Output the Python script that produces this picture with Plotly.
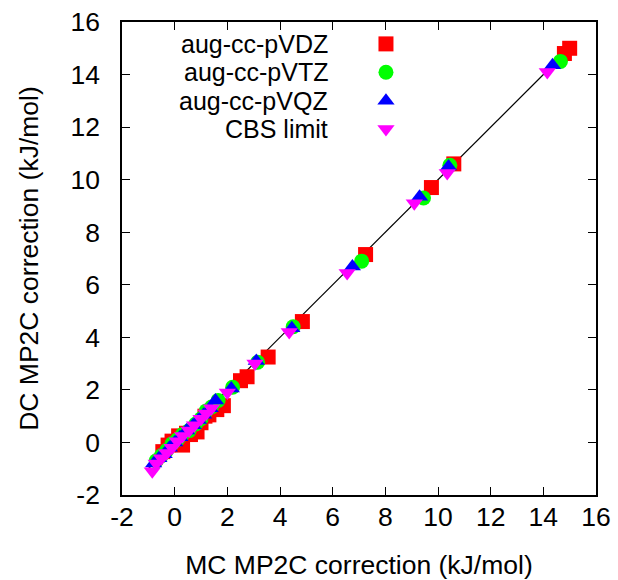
import plotly.graph_objects as go

# ---- data ----
dz_mc = [-0.45, -0.25, -0.10, 0.15, 0.30, 0.45, 0.60, 0.85, 1.00, 1.15, 1.30, 1.60, 1.85, 2.50, 2.75, 3.55, 4.85, 7.25, 9.75, 10.60, 14.80, 15.00]
dz_dc = [-0.35, -0.10, 0.05, 0.25, -0.10, 0.35, 0.30, 0.40, 0.75, 1.00, 1.05, 1.25, 1.40, 2.35, 2.50, 3.25, 4.60, 7.15, 9.70, 10.60, 14.80, 15.00]

tz_mc = [-0.70, -0.50, -0.30, -0.10, 0.10, 0.30, 0.55, 0.80, 1.00, 1.20, 1.40, 1.65, 2.20, 3.15, 4.50, 7.10, 9.45, 10.45, 14.65]
tz_dc = [-0.70, -0.50, -0.30, -0.05, 0.10, 0.30, 0.45, 0.70, 0.90, 1.20, 1.35, 1.60, 2.10, 3.05, 4.40, 6.90, 9.30, 10.55, 14.50]

qz_mc = [-0.80, -0.60, -0.40, -0.20, 0.00, 0.20, 0.45, 0.70, 0.90, 1.10, 1.35, 1.55, 2.15, 3.10, 4.45, 6.75, 9.30, 10.40, 14.35]
qz_dc = [-0.80, -0.60, -0.45, -0.20, 0.00, 0.20, 0.45, 0.65, 0.85, 1.05, 1.30, 1.60, 2.05, 3.10, 4.35, 6.70, 9.35, 10.50, 14.35]

cbs_mc = [-0.85, -0.70, -0.50, -0.30, -0.10, 0.10, 0.30, 0.55, 0.75, 1.00, 1.20, 1.40, 2.00, 3.05, 4.35, 6.55, 9.10, 10.35, 14.15]
cbs_dc = [-1.10, -0.80, -0.60, -0.40, -0.20, 0.05, 0.25, 0.45, 0.65, 0.90, 1.10, 1.30, 1.90, 3.00, 4.20, 6.45, 9.10, 10.25, 14.10]

diag = [-1.0, 15.0]

labels = ["aug-cc-pVDZ", "aug-cc-pVTZ", "aug-cc-pVQZ", "CBS limit"]
colors = ["#ff0000", "#00ff00", "#0000ff", "#ff00ff"]
symbols = ["square", "circle", "triangle-up", "triangle-down"]
sizes = [15, 15, 15, 15]
ticks = [-2, 0, 2, 4, 6, 8, 10, 12, 14, 16]

series = [(dz_mc, dz_dc), (tz_mc, tz_dc), (qz_mc, qz_dc), (cbs_mc, cbs_dc)]

FONT = "Liberation Sans, Arial, Helvetica, sans-serif"
FS = 26.5
FS_KEY = 25

# legend row centres (paper fraction of plot height)
row_y = [0.9535, 0.8935, 0.8335, 0.7735]
key_x = 0.5147
label_x = 0.436
legend_names = ["legend", "legend2", "legend3", "legend4"]

fig = go.Figure()
fig.add_trace(go.Scatter(x=diag, y=diag, mode="lines",
                         line=dict(color="black", width=1.2),
                         showlegend=False, hoverinfo="skip"))

for (xs, ys), lab, col, sym, sz, lg in zip(series, labels, colors, symbols, sizes, legend_names):
    fig.add_trace(go.Scatter(x=xs, y=ys, mode="markers", name=lab,
                             marker=dict(symbol=sym, color=col, size=sz,
                                         line=dict(width=0)),
                             showlegend=False))
    # legend key (symbol only; label drawn as right-aligned text to its left)
    fig.add_trace(go.Scatter(x=[None], y=[None], mode="markers", name="\u00a0",
                             marker=dict(symbol=sym, color=col, size=sz,
                                         line=dict(width=0)),
                             showlegend=True, legend=lg, hoverinfo="skip"))

for lab, yy in zip(labels, row_y):
    fig.add_annotation(text=lab, xref="paper", yref="paper", x=label_x, y=yy,
                       xanchor="right", yanchor="middle", showarrow=False,
                       borderpad=0,
                       font=dict(family=FONT, size=FS_KEY, color="black"))

axis_common = dict(range=[-2, 16], tickvals=ticks, ticktext=[str(t) for t in ticks],
                   ticks="inside", ticklen=8, tickwidth=1.2, tickcolor="black",
                   showline=True, linecolor="black", linewidth=1.6, mirror="ticks",
                   showgrid=False, zeroline=False, automargin=False,
                   tickfont=dict(family=FONT, size=FS, color="black"))

legend_common = dict(xanchor="left", yanchor="middle", x=key_x,
                     bgcolor="rgba(0,0,0,0)", borderwidth=0,
                     font=dict(family=FONT, size=16), itemwidth=30)

fig.update_layout(
    width=618, height=580,
    margin=dict(l=122, r=22, t=22, b=85),
    paper_bgcolor="white", plot_bgcolor="white",
    font=dict(family=FONT, size=FS, color="black"),
    xaxis=dict(**axis_common, ticklabelstandoff=-3,
               title=dict(text="MC MP2C correction (kJ/mol)", standoff=26,
                          font=dict(family=FONT, size=FS))),
    yaxis=dict(**axis_common, ticklabelstandoff=15,
               title=dict(text="DC MP2C correction (kJ/mol)", standoff=24,
                          font=dict(family=FONT, size=FS))),
    legend=dict(**legend_common, y=row_y[0]),
    legend2=dict(**legend_common, y=row_y[1]),
    legend3=dict(**legend_common, y=row_y[2]),
    legend4=dict(**legend_common, y=row_y[3]),
    showlegend=True,
)

fig.write_html("out.html")
